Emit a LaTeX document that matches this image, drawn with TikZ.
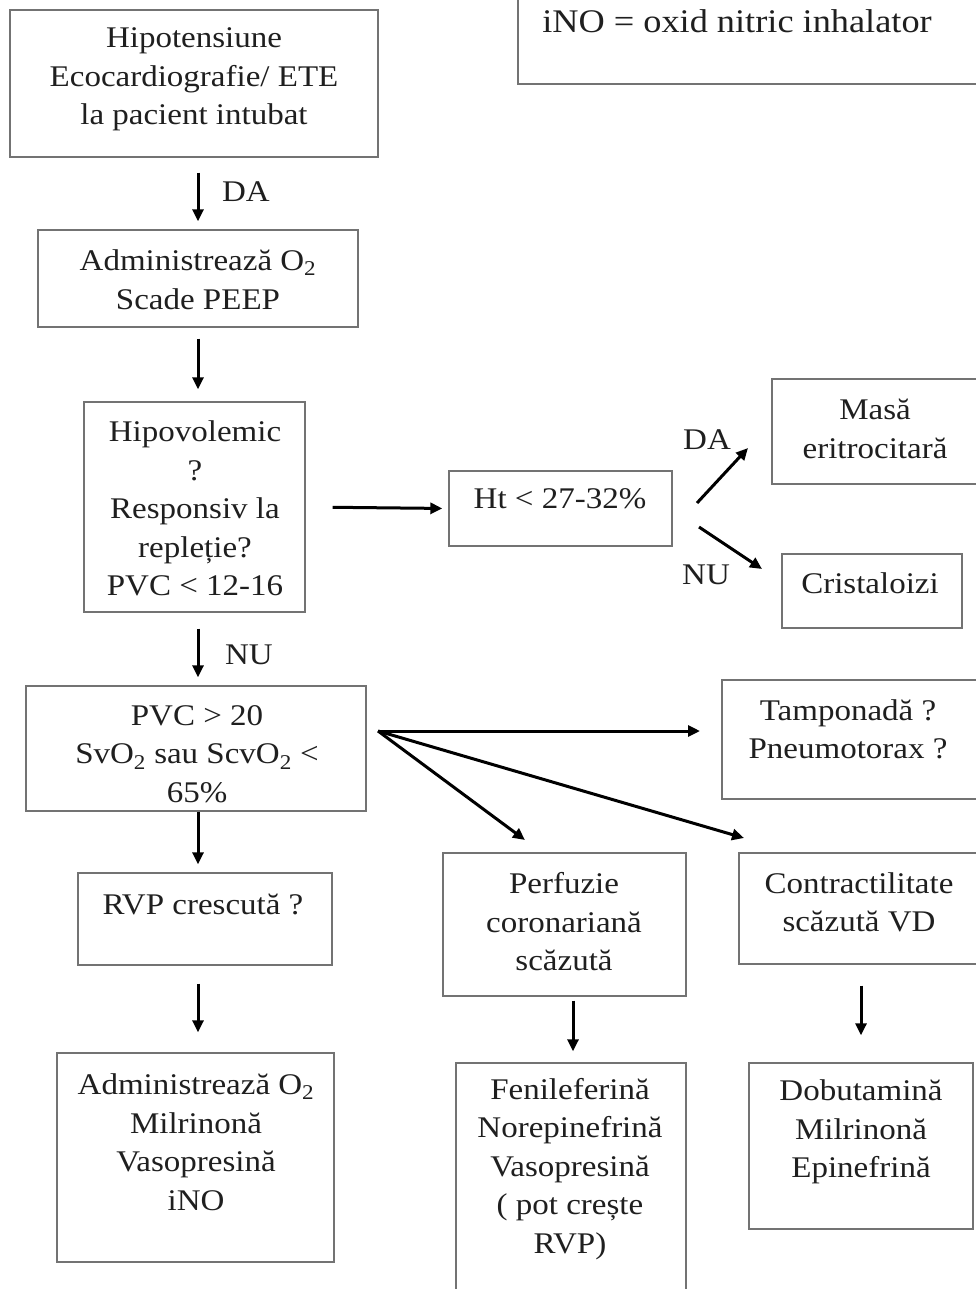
\documentclass[tikz,border=0pt]{standalone}
\usepackage{fontspec}
\setmainfont{Liberation Serif}[FakeStretch=1.1]
\usetikzlibrary{arrows.meta}
\begin{document}
\begin{tikzpicture}[x=1pt,y=-1pt,
  box/.style={draw=black!55, line width=1.4pt, inner sep=0pt, rectangle},
  txt/.style={align=center, inner sep=0pt, font=\fontsize{30}{38.5}\selectfont, text=black!88},
  arr/.style={draw=black, line width=3pt, -{Triangle[length=12pt,width=11pt]}},
  lab/.style={inner sep=0pt, font=\fontsize{30}{36}\selectfont, text=black!88}]
\clip (0,0) rectangle (976,1289);
\fill[white] (0,0) rectangle (976,1289);

% boxes
\node[box, minimum width=368pt, minimum height=147pt] (hip)  at (194,83.5) {};
\node[box, minimum width=482pt, minimum height=104pt] (leg)  at (759,32) {};
\node[box, minimum width=320pt, minimum height=97pt]  (adm)  at (198,278.5) {};
\node[box, minimum width=221pt, minimum height=210pt] (hipo) at (194.5,507) {};
\node[box, minimum width=223pt, minimum height=75pt]  (ht)   at (560.5,508.5) {};
\node[box, minimum width=218pt, minimum height=105pt] (masa) at (881,431.5) {};
\node[box, minimum width=180pt, minimum height=74pt]  (cris) at (872,591) {};
\node[box, minimum width=340pt, minimum height=125pt] (pvc)  at (196,748.5) {};
\node[box, minimum width=268pt, minimum height=119pt] (tamp) at (856,739.5) {};
\node[box, minimum width=254pt, minimum height=92pt]  (rvp)  at (205,919) {};
\node[box, minimum width=243pt, minimum height=143pt] (perf) at (564.5,924.5) {};
\node[box, minimum width=251pt, minimum height=111pt] (cont) at (864.5,908.5) {};
\node[box, minimum width=277pt, minimum height=209pt] (trt1) at (195.5,1157.5) {};
\node[box, minimum width=230pt, minimum height=237pt] (trt2) at (571,1181.5) {};
\node[box, minimum width=224pt, minimum height=166pt] (trt3) at (861,1146) {};

% texts
\node[txt] (thip)  at (194,79.5) {Hipotensiune\\Ecocardiografie/ ETE\\la pacient intubat};
\node[txt, font=\fontsize{33}{38.5}\selectfont] (tleg)  at (737,21) {iNO = oxid nitric inhalator};
\node[txt] (tadm)  at (198,279.5) {Administrează O\textsubscript{2}\\Scade PEEP};
\node[txt] (thipo) at (195,508.5) {Hipovolemic\\?\\Responsiv la\\repleție?\\PVC < 12-16};
\node[txt] (tht)   at (560,499) {Ht < 27-32\%};
\node[txt] (tmasa) at (875,429) {Masă\\eritrocitară};
\node[txt] (tcris) at (870,583) {Cristaloizi};
\node[txt] (tpvc)  at (197,754) {PVC > 20\\SvO\textsubscript{2} sau ScvO\textsubscript{2} <\\65\%};
\node[txt] (ttamp) at (848,729.5) {Tamponadă ?\\Pneumotorax ?};
\node[txt] (trvp)  at (203,904) {RVP crescută ?};
\node[txt] (tperf) at (564,922) {Perfuzie\\coronariană\\scăzută};
\node[txt] (tcont) at (859,902.5) {Contractilitate\\scăzută VD};
\node[txt] (ttrt1) at (196,1142) {Administrează O\textsubscript{2}\\Milrinonă\\Vasopresină\\iNO};
\node[txt] (ttrt2) at (570,1169) {Fenileferină\\Norepinefrină\\Vasopresină\\( pot crește\\RVP)};
\node[txt] (ttrt3) at (861,1132) {Dobutamină\\Milrinonă\\Epinefrină};

% labels
\node[lab] (l1) at (246,192) {DA};
\node[lab] (l2) at (249,655) {NU};
\node[lab] (l3) at (707,440) {DA};
\node[lab] (l4) at (706,575) {NU};

% free ends
\coordinate (fan) at (378,731);
\coordinate (daS) at (697,503);
\coordinate (daE) at (748,448);
\coordinate (nuS) at (699,527);
\coordinate (nuE) at (762,569);
\coordinate (toTamp) at (700,731);
\coordinate (toPerf) at (525,840);
\coordinate (toCont) at (744,838);

% connectors
\draw[arr, shorten <=15pt, shorten >=8pt] (hip.south -| adm.north) -- (adm.north);
\draw[arr, shorten <=11pt, shorten >=12pt] (adm.south) -- (adm.south |- hipo.north);
\draw[arr, shorten <=16pt, shorten >=8pt] (hipo.south -| adm.south) -- (adm.south |- pvc.north);
\draw[arr, shorten <=27pt, shorten >=6pt] (hipo.east) -- (ht.west);
\draw[arr] (daS) -- (daE);
\draw[arr] (nuS) -- (nuE);
\draw[arr, shorten >=8pt] (pvc.south -| adm.south) -- (adm.south |- rvp.north);
\draw[arr] (fan) -- (toTamp);
\draw[arr] (fan) -- (toPerf);
\draw[arr] (fan) -- (toCont);
\draw[arr, shorten <=18pt, shorten >=20pt] (rvp.south -| adm.south) -- (adm.south |- trt1.north);
\draw[arr, shorten <=4pt, shorten >=11pt] ([xshift=8.5pt]perf.south) -- ([xshift=8.5pt]perf.south |- trt2.north);
\draw[arr, shorten <=21pt, shorten >=27pt] (cont.south -| trt3.north) -- (trt3.north);
\end{tikzpicture}
\end{document}
